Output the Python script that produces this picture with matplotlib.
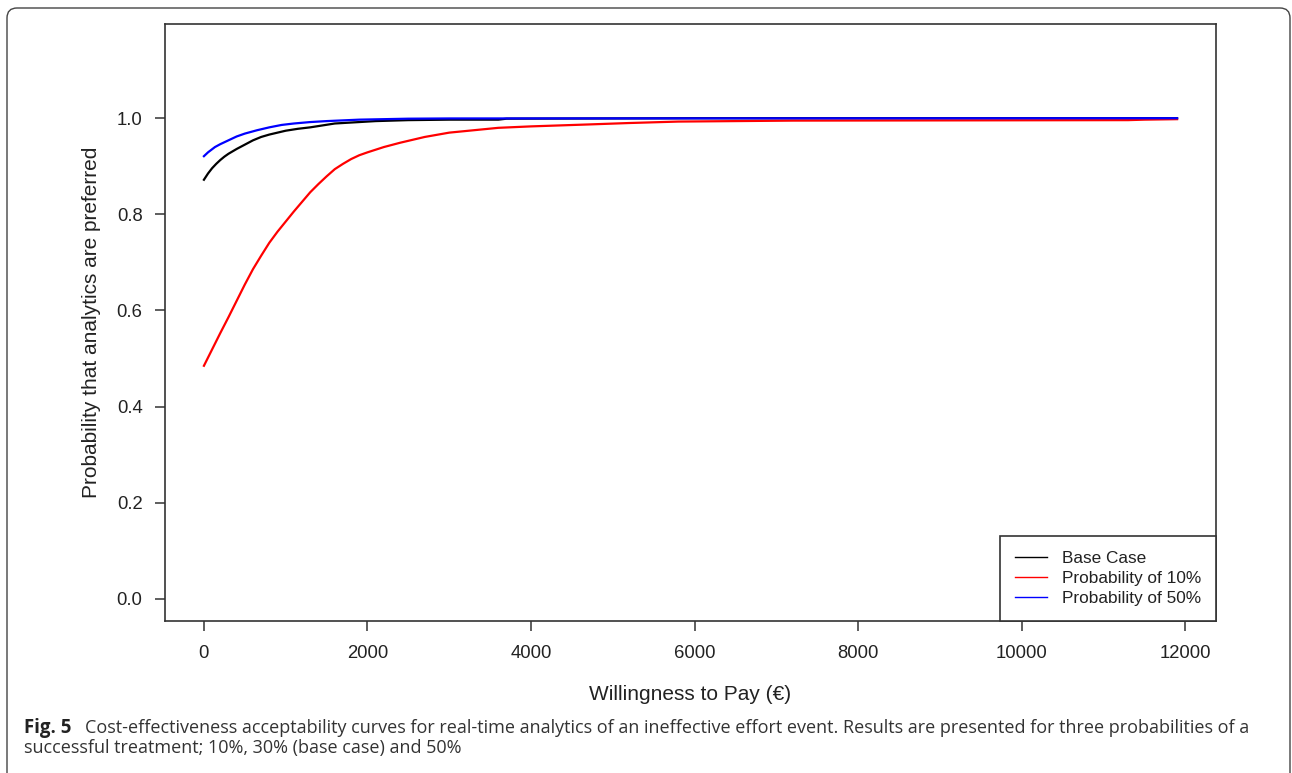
import numpy as np
import matplotlib.pyplot as plt
from matplotlib.lines import Line2D
from matplotlib.patches import FancyBboxPatch

# values
wtp_base = [0, 50, 100, 150, 200, 250, 300, 400, 500, 600, 700, 800, 900, 1000, 1150, 1300, 1450,
            1600, 1800, 2100, 2500, 3000, 3600, 3700, 6000, 11900]
p_base = [0.872, 0.885, 0.896, 0.905, 0.913, 0.920, 0.926, 0.936, 0.945, 0.954, 0.961, 0.966, 0.970,
          0.974, 0.978, 0.981, 0.985, 0.989, 0.991, 0.994, 0.996, 0.997, 0.997, 0.999, 1.0, 1.0]

wtp_10 = [0, 100, 200, 300, 400, 500, 600, 700, 800, 900, 1000, 1100, 1200, 1300, 1400, 1500, 1600,
          1700, 1800, 1900, 2000, 2200, 2400, 2700, 3000, 3300, 3600, 4000, 4700, 5200, 5800, 7200,
          11300, 11500, 11900]
p_10 = [0.485, 0.519, 0.553, 0.586, 0.620, 0.654, 0.686, 0.714, 0.741, 0.764, 0.785, 0.806, 0.826,
        0.846, 0.863, 0.879, 0.894, 0.905, 0.915, 0.923, 0.929, 0.940, 0.949, 0.961, 0.970, 0.975,
        0.980, 0.983, 0.987, 0.990, 0.993, 0.995, 0.996, 0.997, 0.998]

wtp_50 = [0, 50, 135, 200, 300, 400, 500, 650, 800, 950, 1100, 1300, 1500, 1900, 2500, 3000, 11900]
p_50 = [0.921, 0.929, 0.940, 0.946, 0.954, 0.962, 0.968, 0.975, 0.981, 0.986, 0.989, 0.992, 0.994,
        0.997, 0.999, 0.9995, 1.0]

xticks = [0, 2000, 4000, 6000, 8000, 10000, 12000]
yticks = [0.0, 0.2, 0.4, 0.6, 0.8, 1.0]

plt.rcParams['font.family'] = ['Liberation Sans', 'DejaVu Sans']
dark = '#333333'

fig = plt.figure(figsize=(12.92, 7.73), dpi=100)
ax = fig.add_axes([165/1292, 1-621/773, (1216-165)/1292, (621-24)/773])

ax.plot(wtp_base, p_base, color='black', lw=1.6)
ax.plot(wtp_10, p_10, color='#ff0000', lw=1.6)
ax.plot(wtp_50, p_50, color='#0000ff', lw=1.6)

ax.set_xlim(-476, 12376)
ax.set_ylim(-0.046, 1.196)
ax.set_xticks(xticks)
ax.set_yticks(yticks)
ax.set_xticklabels([str(t) for t in xticks])
ax.set_yticklabels([f'{t:.1f}' for t in yticks])
ax.tick_params(direction='out', length=7.2, width=1.1, color=dark, labelsize=13.3,
               labelcolor='#222222')
ax.tick_params(axis='x', pad=10)
ax.tick_params(axis='y', pad=9)
for s in ax.spines.values():
    s.set_color(dark)
    s.set_linewidth(1.2)

ax.set_xlabel('Willingness to Pay (€)', fontsize=15, color='#222222')
ax.set_ylabel('Probability that analytics are preferred', fontsize=15, color='#222222')
ax.xaxis.label.set_va('center')
ax.yaxis.label.set_va('center')
ax.xaxis.set_label_coords(0.5, -(695-621)/597)
ax.yaxis.set_label_coords((92-165)/1051, 0.5)

handles = [Line2D([], [], color='black', lw=1),
           Line2D([], [], color='#ff0000', lw=1),
           Line2D([], [], color='#0000ff', lw=1)]
leg = ax.legend(handles, ['Base Case', 'Probability of 10%', 'Probability of 50%'],
                loc='lower right', borderaxespad=0, fancybox=False, framealpha=1,
                edgecolor=dark, fontsize=12.4, handlelength=1.9, handletextpad=0.85,
                labelspacing=0.3, borderpad=0.85)
leg.get_frame().set_linewidth(1.2)
for t in leg.get_texts():
    t.set_color('#222222')

# caption
cap_font = ['Open Sans', 'DejaVu Sans']
fig.text(24/1292, 1-733/773, 'Fig. 5', fontsize=13.4, fontweight='bold',
         family=cap_font, va='baseline', color='#222222')
fig.text(85/1292, 1-733/773,
         'Cost-effectiveness acceptability curves for real-time analytics of an ineffective effort event. '
         'Results are presented for three probabilities of a',
         fontsize=12.95, family=cap_font, va='baseline', color='#333333')
fig.text(24/1292, 1-753/773, 'successful treatment; 10%, 30% (base case) and 50%',
         fontsize=12.95, family=cap_font, va='baseline', color='#333333')

# rounded outer frame, bottom edge falls outside the picture
frame = FancyBboxPatch((0.07, -0.12), 12.83, 7.77, boxstyle='round,pad=0,rounding_size=0.1',
                       transform=fig.dpi_scale_trans, fill=False, edgecolor='#444444', lw=1.0)
fig.patches.append(frame)

fig.savefig('out.png', dpi=100)
